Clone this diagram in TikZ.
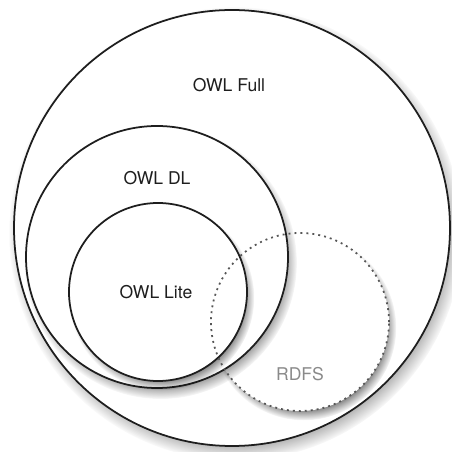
\documentclass[tikz,border=0pt]{standalone}
\usepackage{fontspec}
\setmainfont{TeX Gyre Heros}
\usepackage{xcolor}
\definecolor{ink}{HTML}{1E1E1E}
\definecolor{faint}{HTML}{8A8A8A}
\usetikzlibrary{shadows,fadings}
\tikzset{
  every picture/.style={font=\fontsize{10}{12}\selectfont, line width=1pt},
  haze/.style={general shadow={shadow scale=1.04, shadow xshift=0.07cm, shadow yshift=-0.11cm,
    fill=black, opacity=0.6, path fading={circle with fuzzy edge 15 percent}}},
  set/.style={circle, draw=ink, fill=white, inner sep=0pt, minimum size=#1, haze},
  set/.default=3cm,
  outline/.style={circle, draw=ink!75, inner sep=0pt, minimum size=#1, dash pattern=on 1.1pt off 2.3pt},
  outline/.default=3cm,
  tag/.style={text=ink, inner sep=1pt},
}

\begin{document}
\begin{tikzpicture}
  \useasboundingbox (0,0) rectangle (9.04,9.04);
  \node[set=8.72cm] (full) at (4.64,4.48) {};
  \node[set=3.56cm, draw=none] (rdfs) at (6.00,2.60) {};
  \node[set=5.24cm] (dl) at (3.14,3.90) {};
  \node[set=3.56cm] (lite) at (3.16,3.20) {};
  \node[outline=3.56cm] (rdfsline) at (rdfs) {};
  \node[tag] (fulltag) at (4.58,7.34) {OWL Full};
  \node[tag] (dltag) at (3.14,5.48) {OWL DL};
  \node[tag] (litetag) at (3.12,3.20) {OWL Lite};
  \node[tag, text=faint] (rdfstag) at (6.00,1.56) {RDFS};
\end{tikzpicture}
\end{document}
